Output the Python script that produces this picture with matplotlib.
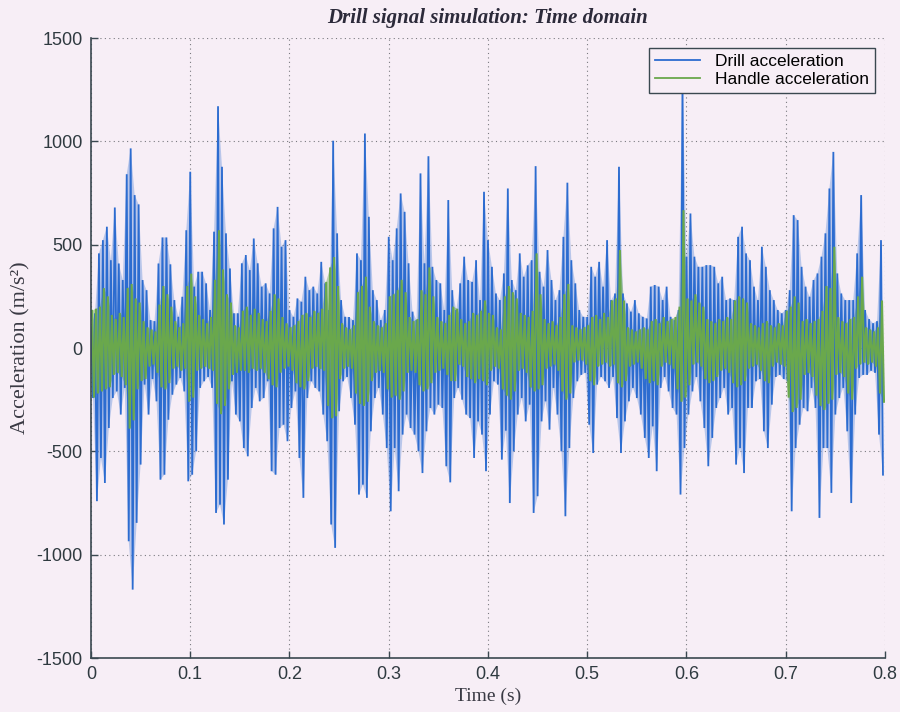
import numpy as np
import matplotlib
matplotlib.use("Agg")
import matplotlib.pyplot as plt

# Sampled peak / trough values (m/s^2) of each 4 ms window
drill_peaks = [
    100, 168, 458, 522, 587, 425, 680, 409, 329, 841,
    966, 740, 695, 329, 280, 135, 130, 409, 535, 535,
    405, 232, 151, 248, 570, 853, 297, 369, 369, 313,
    184, 563, 1170, 877, 555, 385, 168, 168, 410, 450,
    377, 530, 410, 297, 313, 264, 579, 683, 490, 522,
    184, 151, 240, 224, 345, 280, 297, 264, 417, 313,
    184, 1003, 555, 232, 151, 150, 135, 458, 425, 1038,
    635, 280, 232, 135, 184, 538, 425, 579, 748, 659,
    410, 176, 135, 845, 410, 928, 393, 329, 313, 184,
    716, 280, 184, 313, 442, 329, 320, 425, 232, 756,
    522, 393, 264, 232, 361, 772, 329, 280, 458, 345,
    400, 425, 880, 369, 297, 474, 329, 232, 280, 538,
    800, 425, 313, 184, 151, 150, 393, 345, 417, 297,
    522, 232, 264, 877, 264, 216, 176, 232, 168, 151,
    143, 297, 305, 297, 232, 297, 151, 135, 184, 1300,
    442, 651, 442, 393, 393, 401, 401, 393, 313, 345,
    232, 240, 232, 538, 587, 458, 425, 297, 232, 490,
    393, 280, 232, 184, 168, 184, 280, 643, 619, 393,
    297, 248, 329, 361, 442, 555, 772, 949, 361, 264,
    232, 232, 232, 458, 740, 184, 140, 120, 130, 522,
]
drill_troughs = [
    -242, -741, -532, -653, -387, -242, -210, -322, -193, -935,
    -1169, -846, -564, -177, -322, -150, -258, -637, -613, -347,
    -226, -177, -145, -210, -645, -613, -500, -193, -161, -140,
    -193, -798, -758, -854, -637, -161, -322, -355, -484, -524,
    -290, -193, -258, -242, -161, -596, -613, -387, -371, -451,
    -290, -210, -532, -725, -242, -161, -193, -210, -322, -451,
    -854, -967, -306, -161, -140, -242, -371, -709, -661, -725,
    -403, -242, -193, -322, -484, -790, -484, -693, -419, -322,
    -387, -419, -500, -605, -403, -290, -322, -274, -290, -572,
    -650, -242, -193, -250, -322, -339, -532, -355, -419, -596,
    -322, -161, -177, -540, -400, -750, -500, -322, -242, -355,
    -274, -798, -717, -355, -258, -395, -193, -322, -500, -814,
    -484, -242, -161, -130, -120, -371, -508, -177, -140, -161,
    -193, -140, -339, -508, -355, -258, -193, -242, -322, -435,
    -532, -379, -596, -193, -140, -210, -290, -322, -709, -484,
    -322, -210, -140, -258, -387, -572, -435, -290, -242, -193,
    -322, -290, -564, -484, -605, -290, -290, -161, -150, -403,
    -484, -274, -140, -130, -150, -161, -790, -484, -371, -290,
    -306, -193, -290, -822, -484, -484, -701, -322, -242, -193,
    -403, -750, -322, -145, -130, -130, -110, -120, -419, -613,
]
handle_peaks = [
    180, 190, 200, 290, 250, 160, 140, 170, 150, 290,
    310, 240, 220, 130, 100, 90, 80, 210, 300, 260,
    200, 130, 100, 120, 300, 360, 250, 160, 140, 120,
    150, 330, 570, 380, 260, 220, 110, 100, 180, 200,
    160, 190, 170, 140, 130, 180, 260, 240, 150, 120,
    100, 110, 130, 160, 170, 150, 180, 170, 190, 320,
    390, 440, 300, 120, 100, 90, 110, 270, 300, 345,
    200, 130, 110, 100, 120, 250, 260, 280, 330, 270,
    150, 130, 140, 280, 260, 390, 250, 150, 130, 120,
    160, 200, 190, 140, 120, 130, 170, 160, 180, 230,
    170, 160, 100, 90, 250, 300, 270, 240, 170, 160,
    150, 180, 458, 260, 140, 120, 130, 110, 150, 260,
    310, 110, 100, 90, 100, 110, 150, 160, 140, 170,
    150, 230, 240, 474, 230, 100, 90, 80, 90, 100,
    90, 130, 140, 120, 150, 130, 140, 150, 200, 667,
    240, 230, 260, 220, 200, 140, 130, 120, 140, 130,
    150, 140, 230, 250, 240, 220, 120, 110, 100, 120,
    130, 110, 100, 120, 110, 180, 200, 250, 220, 130,
    140, 120, 130, 140, 180, 300, 290, 490, 150, 130,
    120, 140, 150, 250, 345, 100, 90, 80, 100, 230,
]
handle_troughs = [
    -240, -220, -210, -200, -190, -130, -120, -140, -180, -390,
    -350, -200, -160, -150, -90, -80, -120, -190, -200, -170,
    -100, -90, -110, -100, -260, -240, -110, -100, -90, -100,
    -110, -270, -320, -280, -200, -130, -120, -110, -110, -120,
    -100, -110, -100, -120, -150, -180, -190, -120, -100, -90,
    -110, -170, -190, -200, -160, -100, -90, -100, -110, -280,
    -340, -330, -150, -100, -90, -100, -220, -270, -280, -260,
    -160, -120, -110, -120, -200, -240, -230, -250, -210, -120,
    -110, -120, -180, -210, -200, -170, -120, -110, -100, -130,
    -160, -160, -80, -90, -140, -150, -170, -150, -160, -180,
    -110, -90, -100, -200, -230, -250, -210, -110, -100, -120,
    -190, -210, -200, -180, -100, -90, -80, -110, -210, -250,
    -220, -70, -60, -60, -80, -160, -180, -90, -80, -70,
    -90, -80, -170, -190, -160, -90, -80, -70, -100, -150,
    -170, -160, -180, -90, -70, -80, -100, -200, -260, -240,
    -180, -80, -70, -90, -150, -170, -160, -140, -110, -100,
    -120, -170, -190, -180, -160, -100, -90, -80, -110, -160,
    -170, -90, -70, -80, -90, -240, -310, -290, -250, -130,
    -120, -140, -230, -280, -300, -270, -250, -130, -120, -140,
    -220, -250, -100, -80, -70, -80, -70, -90, -220, -260,
]

x_ticks = [0, 0.1, 0.2, 0.3, 0.4, 0.5, 0.6, 0.7, 0.8]
x_tick_labels = ["0", "0.1", "0.2", "0.3", "0.4", "0.5", "0.6", "0.7", "0.8"]
y_ticks = [-1500, -1000, -500, 0, 500, 1000, 1500]
y_tick_labels = ["-1500", "-1000", "-500", "0", "500", "1000", "1500"]

window = 0.004  # seconds per window


def zigzag(peaks, troughs, offset):
    """Interleave peak and trough samples into one time series."""
    n = len(peaks)
    start = np.arange(n) * window + offset
    t = np.empty(2 * n)
    y = np.empty(2 * n)
    t[0::2] = start
    t[1::2] = start + window / 2
    y[0::2] = peaks
    y[1::2] = troughs
    return t, y


t_drill, a_drill = zigzag(drill_peaks, drill_troughs, 0.0)
t_handle, a_handle = zigzag(handle_peaks, handle_troughs, 0.001)

bg = "#f7eef6"
blue = "#2c6cd0"
green = "#6aa84c"
axis_col = "#3a4850"

fig = plt.figure(figsize=(9.0, 7.12), dpi=100, facecolor=bg)
ax = fig.add_axes([0.1011, 0.0758, 0.8822, 0.8708], facecolor=bg)


def envelope(t, y, color, alpha):
    """Shade the band spanned by the peak and trough samples."""
    up_t, up_y = t[0::2], y[0::2]
    lo_t, lo_y = t[1::2], y[1::2]
    ax.fill(np.concatenate([up_t, lo_t[::-1]]),
            np.concatenate([up_y, lo_y[::-1]]),
            color=color, alpha=alpha, lw=0)


envelope(t_drill, a_drill, blue, 0.30)
ax.plot(t_drill, a_drill, color=blue, lw=1.3, label="Drill acceleration",
        solid_joinstyle="miter")
envelope(t_handle, a_handle, green, 0.45)
ax.plot(t_handle, a_handle, color=green, lw=1.5, label="Handle acceleration",
        solid_joinstyle="miter")

ax.set_xlim(0, 0.8)
ax.set_ylim(-1500, 1500)
ax.set_xticks(x_ticks)
ax.set_xticklabels(x_tick_labels)
ax.set_yticks(y_ticks)
ax.set_yticklabels(y_tick_labels)

ax.grid(True, linestyle=(0, (1, 3)), color="#7a7a80", linewidth=0.8)
ax.set_axisbelow(True)
for side in ("top", "right"):
    ax.spines[side].set_visible(False)
for side in ("left", "bottom"):
    ax.spines[side].set_color(axis_col)
    ax.spines[side].set_linewidth(1.2)

ax.tick_params(direction="in", length=5, width=1, color=axis_col,
               labelsize=13, labelcolor="#2f3a40", pad=6)
for lab in ax.get_xticklabels() + ax.get_yticklabels():
    lab.set_family("Liberation Sans")

ax.set_title("Drill signal simulation: Time domain", family="Liberation Serif",
             style="italic", weight="bold", fontsize=15, color="#2c2a3a", pad=11)
ax.set_xlabel("Time (s)", family="Liberation Serif", fontsize=14,
              color="#3a3a44", labelpad=3)
ax.set_ylabel("Acceleration (m/s²)", family="Liberation Serif", fontsize=16,
              color="#3a3a44", labelpad=4)

leg = ax.legend(loc="upper right", prop={"family": "Liberation Sans", "size": 12.5},
                frameon=True, fancybox=False, framealpha=1, facecolor=bg,
                edgecolor="#3a4850", borderaxespad=0.55, handlelength=2.6,
                borderpad=0.35, labelspacing=0.2, handletextpad=0.9)
leg.get_frame().set_linewidth(1.0)
for line in leg.get_lines():
    line.set_linewidth(1.3)

fig.savefig("out.png", dpi=100, facecolor=bg)
